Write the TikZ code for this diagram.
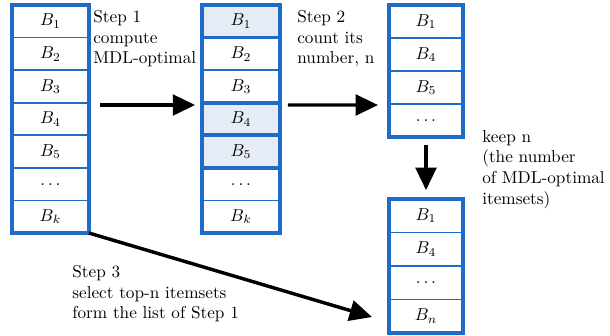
\documentclass[tikz,border=0pt]{standalone}
\usetikzlibrary{arrows.meta}
\definecolor{lb}{RGB}{30,108,200}
\definecolor{hl}{RGB}{230,236,246}
\begin{document}
\begin{tikzpicture}[x=0.581pt,y=-0.581pt,
  row/.style={draw=lb,line width=1pt,minimum width=#1,minimum height=18.92pt,inner sep=0pt,outer sep=0pt},
  frame/.style={draw=lb,line width=2.1pt,inner sep=0pt,outer sep=0pt},
  hlbox/.style={draw=lb,line width=2.1pt},
  arr/.style={-{Triangle[length=13pt,width=12pt]},line width=2pt,black},
  lbl/.style={anchor=north west,inner sep=0pt,align=left,font=\normalsize}]
\useasboundingbox (0,0) rectangle (610,335);
% left list
\foreach \t [count=\i] in {B_1,B_2,B_3,B_4,B_5,\ldots,B_k}
  \node[row=44.74pt] (L\i) at (50.5,{5+(\i-0.5)*32.57}) {$\t$};
\node[frame,minimum width=44.74pt,minimum height=132.5pt] (LF) at (50.5,119) {};
% middle list
\foreach \t/\f [count=\i] in {B_1/hl,B_2/white,B_3/white,B_4/hl,B_5/hl,\ldots/white,B_k/white}
  \node[row=45.3pt,fill=\f] (M\i) at (241,{5+(\i-0.5)*32.57}) {$\t$};
\node[frame,minimum width=45.3pt,minimum height=132.5pt] (MF) at (241,119) {};
\draw[hlbox] (M1.north west) rectangle (M1.south east);
\draw[hlbox] (M4.north west) rectangle (M4.south east);
\draw[hlbox] (M5.north west) rectangle (M5.south east);
% right top list
\foreach \t [count=\i] in {B_1,B_4,B_5,\ldots}
  \node[row=43pt,minimum height=19.17pt] (T\i) at (426,{5+(\i-0.5)*33}) {$\t$};
\node[frame,minimum width=43pt,minimum height=76.7pt] (TF) at (426,71) {};
% right bottom list
\foreach \t [count=\i] in {B_1,B_4,\ldots,B_n}
  \node[row=43pt,minimum height=19.46pt] (R\i) at (426,{199+(\i-0.5)*33.5}) {$\t$};
\node[frame,minimum width=43pt,minimum height=77.85pt] (BF) at (426,266) {};
% arrows
\coordinate (a2e) at (378,105);
\coordinate (a3e) at (372,317);
\draw[arr,shorten <=6.4pt,shorten >=4pt] ([yshift=8.13pt]LF.east) -- ([yshift=8.13pt]MF.west);
\draw[arr,shorten <=4.6pt] ([yshift=8.13pt]MF.east) -- (a2e);
\draw[arr,shorten <=4.6pt,shorten >=5.2pt] (TF.south) -- (BF.north);
\draw[arr] (LF.south east) -- (a3e);
% labels
\node[lbl] (s1) at (93,10) {Step 1\\compute\\MDL-optimal};
\node[lbl] (s2) at (297,10) {Step 2\\count its\\number, n};
\node[lbl] (s4) at (482,130) {keep n\\(the number\\of MDL-optimal\\itemsets)};
\node[lbl] (s3) at (72,265) {Step 3\\select top-n itemsets\\form the list of Step 1};
\end{tikzpicture}
\end{document}
